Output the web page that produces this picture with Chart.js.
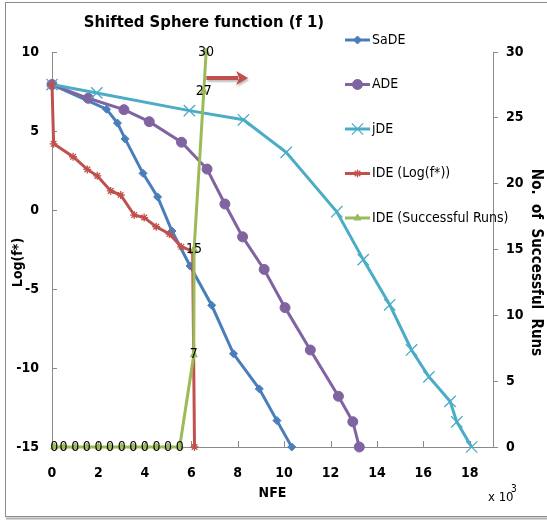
<!DOCTYPE html>
<html>
<head>
<meta charset="utf-8">
<script src="https://cdn.jsdelivr.net/npm/chart.js@4.4.1/dist/chart.umd.min.js"></script>
<style>
  html, body { margin: 0; padding: 0; background: #fff; }
  #wrap { width: 547px; height: 522px; }
</style>
</head>
<body>
<div id="wrap"><canvas id="sphereChart" width="547" height="522"></canvas></div>
<script>
// values (NFE in thousands)
const sadeNfe = [0, 2.35, 2.82, 3.15, 3.92, 4.55, 5.17, 5.95, 6.88, 7.82, 8.93, 9.69, 10.33];
const sadeLog = [7.94, 6.38, 5.5, 4.5, 2.32, 0.83, -1.33, -3.54, -6.03, -9.1, -11.32, -13.33, -15];

const adeNfe = [0, 1.56, 3.1, 4.19, 5.58, 6.68, 7.45, 8.21, 9.14, 10.04, 11.13, 12.34, 12.96, 13.24];
const adeLog = [7.94, 7.07, 6.35, 5.59, 4.29, 2.59, 0.38, -1.7, -3.76, -6.18, -8.86, -11.79, -13.4, -15];

const jdeNfe = [0, 1.93, 5.92, 8.25, 10.09, 12.27, 13.41, 14.55, 15.49, 16.24, 17.15, 17.44, 18.08];
const jdeLog = [7.94, 7.41, 6.29, 5.71, 3.65, -0.11, -3.14, -6.0, -8.86, -10.56, -12.11, -13.41, -15];

const ideNfe = [0, 0.07, 0.91, 1.52, 1.95, 2.53, 2.96, 3.54, 3.97, 4.49, 5.06, 5.57, 6.06, 6.14];
const ideLog = [7.94, 4.19, 3.37, 2.57, 2.16, 1.21, 0.95, -0.32, -0.48, -1.06, -1.52, -2.33, -2.6, -15];

const runNfe = [0.1, 0.5, 1, 1.5, 2, 2.5, 3, 3.5, 4, 4.5, 5, 5.5, 6.11, 6.12, 6.54, 6.64];
const runCount = [0, 0, 0, 0, 0, 0, 0, 0, 0, 0, 0, 0, 7, 15, 27, 30];

const seriesNames = ['SaDE', 'ADE', 'jDE', 'IDE (Log(f*))', 'IDE (Successful Runs)'];
const nfeTicks = [0, 2, 4, 6, 8, 10, 12, 14, 16, 18];

// the red arrow pointing to the right-hand axis (data units)
const arrowStart = { x: 6.65, y: 8.36 };
const arrowEndX = 8.45;

const fontFamily = "'Liberation Sans Narrow', 'DejaVu Sans Condensed', 'Liberation Sans', sans-serif";
Chart.defaults.font.family = fontFamily;
Chart.defaults.color = '#000';

const toPoints = (xs, ys) => xs.map((x, i) => ({ x: x, y: ys[i] }));

function lineSet(label, xs, ys, color, style, radius, axis, order) {
    return {
        label: label,
        data: toPoints(xs, ys),
        yAxisID: axis,
        order: order,
        borderColor: color,
        backgroundColor: color,
        borderWidth: 3,
        pointStyle: style,
        pointRadius: radius,
        pointBorderWidth: style === 'crossRot' || style === 'star' ? 1.3 : 1,
        pointBorderColor: color,
        pointBackgroundColor: color,
        tension: 0,
        clip: false
    };
}

// frame, title, axis titles, "x 10^3" and the arrow
const decorations = {
    id: 'decorations',
    beforeDraw(chart) {
        const ctx = chart.ctx;
        ctx.save();
        ctx.fillStyle = '#fff';
        ctx.fillRect(0, 0, chart.width, chart.height);
        ctx.strokeStyle = '#8a8a8a';
        ctx.lineWidth = 1;
        ctx.strokeRect(5.5, 2.5, chart.width + 10, 514);
        ctx.strokeStyle = '#b0b0b0';
        ctx.lineWidth = 2;
        ctx.beginPath();
        ctx.moveTo(6, 518.5);
        ctx.lineTo(chart.width, 518.5);
        ctx.stroke();
        ctx.restore();
    },
    afterDraw(chart) {
        const ctx = chart.ctx;
        const xs = chart.scales.x, ys = chart.scales.y;
        const midY = (chart.chartArea.top + chart.chartArea.bottom) / 2 + 13;
        ctx.save();
        ctx.fillStyle = '#000';
        ctx.textAlign = 'center';
        ctx.textBaseline = 'middle';
        ctx.font = 'bold 16.5px ' + fontFamily;
        ctx.fillText('Shifted Sphere function (f 1)', 204, 23);

        // y axis titles
        ctx.font = 'bold 14px ' + fontFamily;
        ctx.save();
        ctx.translate(18, midY);
        ctx.rotate(-Math.PI / 2);
        ctx.fillText('Log(f*)', 0, 0);
        ctx.restore();
        ctx.font = 'bold 15px ' + fontFamily;
        ctx.save();
        ctx.translate(536, midY);
        ctx.rotate(Math.PI / 2);
        ctx.fillText('No.  of  Successful  Runs', 0, 0);
        ctx.restore();

        ctx.textAlign = 'left';
        ctx.font = '13px ' + fontFamily;
        ctx.fillText('x 10', 488, 498);
        ctx.font = '10px ' + fontFamily;
        ctx.fillText('3', 511, 489);

        // arrow
        const x0 = xs.getPixelForValue(arrowStart.x);
        const x1 = xs.getPixelForValue(arrowEndX);
        const y0 = ys.getPixelForValue(arrowStart.y);
        ctx.shadowColor = 'rgba(0,0,0,0.25)';
        ctx.shadowOffsetX = 1;
        ctx.shadowOffsetY = 2;
        ctx.shadowBlur = 2;
        ctx.strokeStyle = '#c0504d';
        ctx.fillStyle = '#c0504d';
        ctx.lineWidth = 4;
        ctx.beginPath();
        ctx.moveTo(x0, y0);
        ctx.lineTo(x1 - 10, y0);
        ctx.stroke();
        ctx.beginPath();
        ctx.moveTo(x1 - 12, y0 - 7);
        ctx.lineTo(x1, y0);
        ctx.lineTo(x1 - 12, y0 + 7);
        ctx.lineTo(x1 - 9, y0);
        ctx.closePath();
        ctx.fill();
        ctx.restore();
    }
};

// Excel style tick marks pointing into the plot on the left and bottom axes
const innerTicks = {
    id: 'innerTicks',
    beforeDatasetsDraw(chart) {
        const { ctx, chartArea, scales } = chart;
        ctx.save();
        ctx.strokeStyle = '#8a8a8a';
        ctx.lineWidth = 1;
        ctx.beginPath();
        scales.x.ticks.forEach(t => {
            const px = Math.round(scales.x.getPixelForValue(t.value)) + 0.5;
            ctx.moveTo(px, chartArea.bottom);
            ctx.lineTo(px, chartArea.bottom - 6);
        });
        scales.y.ticks.forEach(t => {
            const py = Math.round(scales.y.getPixelForValue(t.value)) + 0.5;
            ctx.moveTo(chartArea.left, py);
            ctx.lineTo(chartArea.left + 5, py);
        });
        ctx.stroke();
        ctx.restore();
    }
};

// value labels on the successful-runs series
const runLabels = {
    id: 'runLabels',
    afterDatasetsDraw(chart) {
        const ctx = chart.ctx;
        const idx = chart.data.datasets.findIndex(d => d.yAxisID === 'y1');
        const meta = chart.getDatasetMeta(idx);
        ctx.save();
        ctx.fillStyle = '#000';
        ctx.textAlign = 'center';
        ctx.textBaseline = 'middle';
        ctx.font = '14px ' + fontFamily;
        meta.data.forEach((pt, i) => {
            ctx.fillText(String(runCount[i]), pt.x, pt.y);
        });
        ctx.restore();
    }
};

// legend sitting over the top right of the plot
const sideLegend = {
    id: 'sideLegend',
    afterDraw(chart) {
        const ctx = chart.ctx;
        ctx.save();
        chart.data.datasets.forEach((ds, i) => {
            const y = 40 + i * 44.5;
            ctx.strokeStyle = ds.borderColor;
            ctx.fillStyle = ds.borderColor;
            ctx.lineWidth = 3;
            ctx.beginPath();
            ctx.moveTo(345, y);
            ctx.lineTo(370, y);
            ctx.stroke();
            ctx.lineWidth = ds.pointBorderWidth;
            Chart.helpers.drawPoint(ctx, {
                pointStyle: ds.pointStyle,
                radius: ds.pointRadius,
                borderWidth: ds.pointBorderWidth,
                rotation: 0
            }, 357.5, y);
            ctx.fillStyle = '#000';
            ctx.font = '14px ' + fontFamily;
            ctx.textAlign = 'left';
            ctx.textBaseline = 'middle';
            ctx.fillText(ds.label, 372, y);
        });
        ctx.restore();
    }
};

const ctx = document.getElementById('sphereChart').getContext('2d');

new Chart(ctx, {
    type: 'line',
    data: {
        datasets: [
            lineSet(seriesNames[0], sadeNfe, sadeLog, '#4a7ebb', 'rectRot', 4, 'y', 5),
            lineSet(seriesNames[1], adeNfe, adeLog, '#8064a2', 'circle', 5, 'y', 4),
            lineSet(seriesNames[2], jdeNfe, jdeLog, '#4bacc6', 'crossRot', 8, 'y', 3),
            lineSet(seriesNames[3], ideNfe, ideLog, '#c0504d', 'star', 4, 'y', 2),
            lineSet(seriesNames[4], runNfe, runCount, '#9bbb59', 'triangle', 4, 'y1', 1)
        ]
    },
    options: {
        responsive: false,
        animation: false,
        layout: { padding: { top: 52, left: 0, right: 0, bottom: 0 } },
        plugins: {
            legend: { display: false },
            tooltip: { enabled: false }
        },
        scales: {
            x: {
                type: 'linear',
                min: 0,
                max: 19,
                grid: { display: false, drawTicks: false },
                border: { display: true, color: '#8a8a8a', width: 1 },
                ticks: { padding: 18, font: { size: 14, weight: 'bold' } },
                afterBuildTicks: s => { s.ticks = nfeTicks.map(v => ({ value: v })); },
                afterFit: s => { s.height = 75; },
                title: { display: true, text: 'NFE', padding: { top: 0, bottom: 20 }, font: { size: 14, weight: 'bold' } }
            },
            y: {
                position: 'left',
                min: -15,
                max: 10,
                grid: { display: false, drawTicks: false },
                border: { display: true, color: '#8a8a8a', width: 1 },
                ticks: { stepSize: 5, padding: 13, font: { size: 14, weight: 'bold' } },
                afterFit: s => { s.width = 52; }
            },
            y1: {
                position: 'right',
                min: 0,
                max: 30,
                grid: { display: true, drawOnChartArea: false, drawTicks: true, tickLength: 5, color: '#8a8a8a' },
                border: { display: true, color: '#8a8a8a', width: 1 },
                ticks: { stepSize: 5, padding: 8, font: { size: 14, weight: 'bold' } },
                afterFit: s => { s.width = 54; }
            }
        }
    },
    plugins: [decorations, innerTicks, runLabels, sideLegend]
});
</script>
</body>
</html>
